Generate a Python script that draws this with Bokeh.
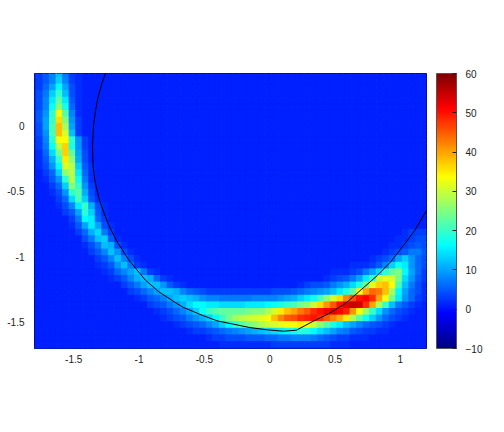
from bokeh.plotting import figure
from bokeh.models import (ColumnDataSource, LinearColorMapper, ColorBar, FixedTicker, Range1d)
from bokeh.transform import transform
from bokeh.embed import file_html
from bokeh.resources import INLINE

# Axis setup values
x_ticks = [-1.5, -1, -0.5, 0, 0.5, 1]
x_tick_labels = ["-1.5", "-1", "-0.5", "0", "0.5", "1"]
y_ticks = [0, -0.5, -1, -1.5]
y_tick_labels = ["0", "-0.5", "-1", "-1.5"]
cbar_ticks = [-10, 0, 10, 20, 30, 40, 50, 60]

# Cell grid
n_cols = 61
n_rows = 43
background = 1
row_00 = [(0, [2,3,5,8,12,7,3,2])]
row_01 = [(0, [2,3,5,8,13,8,3,2])]
row_02 = [(0, [2,3,6,10,16,10,4,2])]
row_03 = [(0, [2,4,7,13,20,12,4,2])]
row_04 = [(0, [2,4,8,15,23,15,5,2])]
row_05 = [(0, [2,4,8,17,26,18,6,2])]
row_06 = [(0, [2,5,9,19,33,22,8,2])]
row_07 = [(0, [2,5,10,20,36,25,9,3])]
row_08 = [(0, [2,4,10,21,38,28,10,3])]
row_09 = [(0, [2,4,9,21,38,31,12,3])]
row_10 = [(0, [2,3,8,19,33,34,19,9,3])]
row_11 = [(0, [2,3,7,17,29,37,18,9,3])]
row_12 = [(1, [2,6,14,24,37,23,10,4])]
row_13 = [(1, [2,5,11,20,35,26,11,4])]
row_14 = [(1, [2,4,9,16,31,29,13,5,2])]
row_15 = [(2, [3,6,13,26,29,15,6,2])]
row_16 = [(2, [2,5,9,19,29,17,7,2])]
row_17 = [(3, [3,6,13,25,20,9,3])]
row_18 = [(3, [2,4,9,19,22,11,4])]
row_19 = [(4, [3,6,14,21,13,5,2])]
row_20 = [(4, [2,4,8,15,20,11,4,2])]
row_21 = [(5, [3,5,10,19,13,5,2])]
row_22 = [(6, [3,7,16,15,6,3])]
row_23 = [(6, [2,5,10,15,10,4,2])]
row_24 = [(7, [3,6,11,14,7,3]), (57, [2,3,3,3])]
row_25 = [(8, [4,7,12,13,5,2]), (56, [2,2,3,4,4])]
row_26 = [(8, [2,4,7,12,11,4,2]), (55, [2,2,3,4,5,4])]
row_27 = [(9, [3,5,8,12,9,4,2]), (54, [2,3,4,5,7,7,5])]
row_28 = [(10, [3,5,8,12,8,4,2]), (52, [2,3,4,6,10,13,9,6,4])]
row_29 = [(10, [2,3,5,9,12,7,3,2]), (49, [2,2,2,3,5,8,13,17,15,9,6,4])]
row_30 = [(11, [2,3,6,8,10,12,7,3,2]), (46, [2,2,2,3,4,7,10,14,19,23,25,16,10,6,3])]
row_31 = [(12, [2,3,5,8,11,12,11,6,3,2]), (45, [2,3,4,5,7,10,15,20,30,32,31,24,14,9,5,3])]
row_32 = [(14, [3,5,7,10,12,12,9,5,3,2]), (41, [2,3,4,4,5,7,9,11,14,18,24,32,37,38,34,21,12,7,4,2])]
row_33 = [(15, [3,4,6,8,10,12,12,11,8,6,5,4,3,3,3,3,3,3,3,3,3,3,4,4,4,5]),
          (41, [6,7,8,9,10,12,15,18,23,33,40,44,43,38,28,16,10,6,4,2])]
row_34 = [(16, [2,3,5,6,8,10,12,13,12,11,9,8,8,7,7,7,7,7,8,8,8,8,9,10,11]),
          (41, [13,15,17,21,26,31,36,42,46,50,51,48,40,33,24,15,9,6,3,2])]
row_35 = [(18, [3,4,5,7,9,11,14,16,16,15,15,14,14,14,14,15,15,15,16,17,18,20,21]),
          (41, [24,26,30,36,41,45,50,53,55,54,48,40,28,20,12,7,5,3,2,1])]
row_36 = [(19, [2,3,4,6,8,10,13,17,20,22,23,23,23,23,24,25,25,28,31,35,38,40]),
          (41, [43,45,48,50,52,53,51,49,41,34,27,20,14,9,6,4,3,2])]
row_37 = [(20, [2,3,4,5,7,9,11,13,16,20,24,27,29,30,31,32,33,38,42,45,46]),
          (41, [48,49,50,48,45,42,39,35,28,22,17,13,9,6,4,3,2])]
row_38 = [(22, [2,3,4,5,6,8,10,13,16,19,22,24,26,28,30,31,32,33,33]),
          (41, [35,33,30,26,22,18,15,12,10,8,6,5,4,3,2])]
row_39 = [(24, [2,3,3,4,5,6,7,8,9,10,11,12,13,14,15,16,17]),
          (41, [19,18,16,14,12,10,8,7,5,4,3,3,2,2])]
row_40 = [(27, [2,3,3,4,4,4,5,5,5,6,6,7,7,8]),
          (41, [8,8,7,6,5,4,3,3,2,2,2])]
row_41 = [(29, [2,2,2,2,2,2,2,2,3,3,3,3,3,3,3,3,3,2,2,2])]
row_42 = []

all_rows = [row_00, row_01, row_02, row_03, row_04, row_05, row_06, row_07, row_08, row_09,
            row_10, row_11, row_12, row_13, row_14, row_15, row_16, row_17, row_18, row_19,
            row_20, row_21, row_22, row_23, row_24, row_25, row_26, row_27, row_28, row_29,
            row_30, row_31, row_32, row_33, row_34, row_35, row_36, row_37, row_38, row_39,
            row_40, row_41, row_42]

# Black curve
curve_x = [-1.257, -1.287, -1.314, -1.333, -1.348, -1.356, -1.352, -1.337, -1.300, -1.234, -1.170, -1.081,
           -0.951, -0.849, -0.670, -0.517, -0.402, -0.279, -0.152, -0.025, 0.106, 0.205, 0.325,
           0.452, 0.580, 0.682, 0.823, 0.924, 1.014, 1.110, 1.2]
curve_y = [0.400, 0.316, 0.217, 0.117, 0.003, -0.157, -0.303, -0.425, -0.577, -0.753, -0.881, -1.020,
           -1.178, -1.267, -1.382, -1.446, -1.489, -1.514, -1.540, -1.557, -1.568, -1.560, -1.496,
           -1.433, -1.356, -1.267, -1.143, -1.041, -0.926, -0.799, -0.646]

# Grid placement
x0, dx = -1.81, 0.05
y0, dy = 0.3947, 0.0504

xs, ys, zs = [], [], []
for i, segments in enumerate(all_rows):
    line = [background] * n_cols
    for start, vals in segments:
        line[start:start + len(vals)] = vals
    for j, v in enumerate(line):
        xs.append(x0 + dx * j)
        ys.append(y0 - dy * i)
        zs.append(v)

# jet colormap
def jet(t):
    def c(u):
        return max(0.0, min(1.0, 1.5 - abs(4 * t - u)))
    return "#%02x%02x%02x" % (round(255 * c(3)), round(255 * c(2)), round(255 * c(1)))

palette = [jet(k / 255) for k in range(256)]
mapper = LinearColorMapper(palette=palette, low=-10, high=60)

p = figure(frame_width=392, frame_height=275, x_range=Range1d(-1.8, 1.2), y_range=Range1d(-1.7, 0.4),
           min_border_left=34, min_border_top=73, min_border_bottom=68, min_border_right=62,
           toolbar_location=None, output_backend="svg", background_fill_color="white")
p.grid.visible = False

src = ColumnDataSource(dict(x=xs, y=ys, z=zs))
p.rect("x", "y", width=dx, height=dy, source=src,
       fill_color=transform("z", mapper), line_color=transform("z", mapper), line_width=1)
p.line(curve_x, curve_y, line_color="black", line_width=1)

p.outline_line_color = "black"
p.outline_line_width = 1

for ax, ticks, labels in ((p.xaxis[0], x_ticks, x_tick_labels), (p.yaxis[0], y_ticks, y_tick_labels)):
    ax.ticker = FixedTicker(ticks=ticks)
    ax.major_label_overrides = dict(zip(ticks, labels))
    ax.axis_line_color = None
    ax.major_tick_line_color = None
    ax.minor_tick_line_color = None
    ax.major_label_text_font = "Liberation Sans"
    ax.major_label_text_font_size = "10px"
    ax.major_label_text_color = "#222222"
p.xaxis[0].major_label_standoff = 0
p.yaxis[0].major_label_standoff = 4

cb = ColorBar(color_mapper=mapper, ticker=FixedTicker(ticks=cbar_ticks), width=20, height=275,
              padding=0, margin=0, location=(10, 0), bar_line_color="#555555", bar_line_width=1,
              major_tick_line_color="#222222", major_tick_in=4, minor_tick_line_color=None,
              major_label_text_font="Liberation Sans", major_label_text_font_size="10px",
              major_label_text_color="#222222", label_standoff=9)
p.add_layout(cb, "right")

open("out.html", "w").write(file_html(p, INLINE))
